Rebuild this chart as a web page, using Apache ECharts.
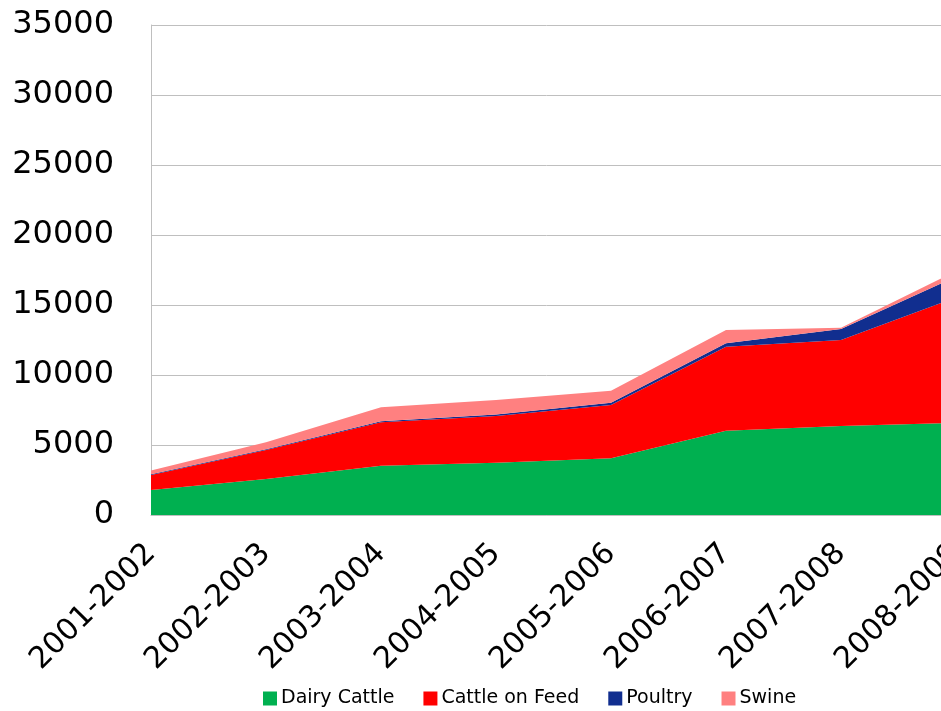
<!DOCTYPE html>
<html>
<head>
<meta charset="utf-8">
<script src="https://cdn.jsdelivr.net/npm/echarts@6/dist/echarts.min.js"></script>
<style>
  html, body { margin: 0; padding: 0; background: #fff; }
  #chart { width: 941px; height: 711px; }
</style>
</head>
<body>
<div id="chart"></div>
<script>
// 年度
const years = ['2001-2002', '2002-2003', '2003-2004', '2004-2005', '2005-2006', '2006-2007', '2007-2008', '2008-2009']
// 各类数值（估读）
const dairyCattle = [1780, 2570, 3520, 3740, 4050, 6020, 6360, 6580]
const cattleOnFeed = [1080, 2070, 3100, 3340, 3810, 6000, 6140, 8960]
const poultry = [50, 60, 70, 100, 160, 240, 790, 1480]
const swine = [260, 500, 1000, 1040, 860, 950, 90, 400]
const yTicks = [0, 5000, 10000, 15000, 20000, 25000, 30000, 35000]

const font = 'DejaVu Sans'
const myChart = echarts.init(document.getElementById('chart'))

function area(name, data, color) {
  return {
    name: name,
    type: 'line',
    stack: 'total',
    data: data,
    showSymbol: false,
    symbol: 'none',
    lineStyle: { width: 0 },
    areaStyle: { color: color, opacity: 1 },
    itemStyle: { color: color },
    emphasis: { disabled: true }
  }
}

let option = {
  animation: false,
  backgroundColor: '#fff',
  grid: {
    left: 151,
    right: -15,
    top: 25,
    bottom: 196,
    containLabel: false,
    outerBoundsMode: 'none'
  },
  legend: {
    left: 258,
    top: 684,
    width: 900,
    itemWidth: 14,
    itemHeight: 14,
    itemGap: 29,
    icon: 'rect',
    textStyle: { fontFamily: font, fontSize: 19, color: '#000', padding: [0, 0, 0, -1] },
    data: ['Dairy Cattle', 'Cattle on Feed', 'Poultry', 'Swine']
  },
  xAxis: {
    type: 'category',
    data: years,
    boundaryGap: false,
    axisTick: { show: false },
    axisLine: { lineStyle: { color: '#bfbfbf', width: 1 } },
    axisLabel: {
      rotate: 45,
      interval: 0,
      margin: 34,
      fontFamily: font,
      fontSize: 30,
      color: '#000'
    },
    splitLine: { show: false }
  },
  yAxis: {
    type: 'value',
    min: yTicks[0],
    max: yTicks[yTicks.length - 1],
    interval: 5000,
    axisLine: { show: true, lineStyle: { color: '#bfbfbf', width: 1 } },
    axisTick: { show: false },
    axisLabel: {
      margin: 37,
      fontFamily: font,
      fontSize: 32,
      color: '#000',
      formatter: v => String(v)
    },
    splitLine: { lineStyle: { color: '#bfbfbf', width: 1 } }
  },
  series: [
    area('Dairy Cattle', dairyCattle, '#00b050'),
    area('Cattle on Feed', cattleOnFeed, '#ff0000'),
    area('Poultry', poultry, '#112e8f'),
    area('Swine', swine, '#ff8080')
  ]
}
myChart.setOption(option)
</script>
</body>
</html>
